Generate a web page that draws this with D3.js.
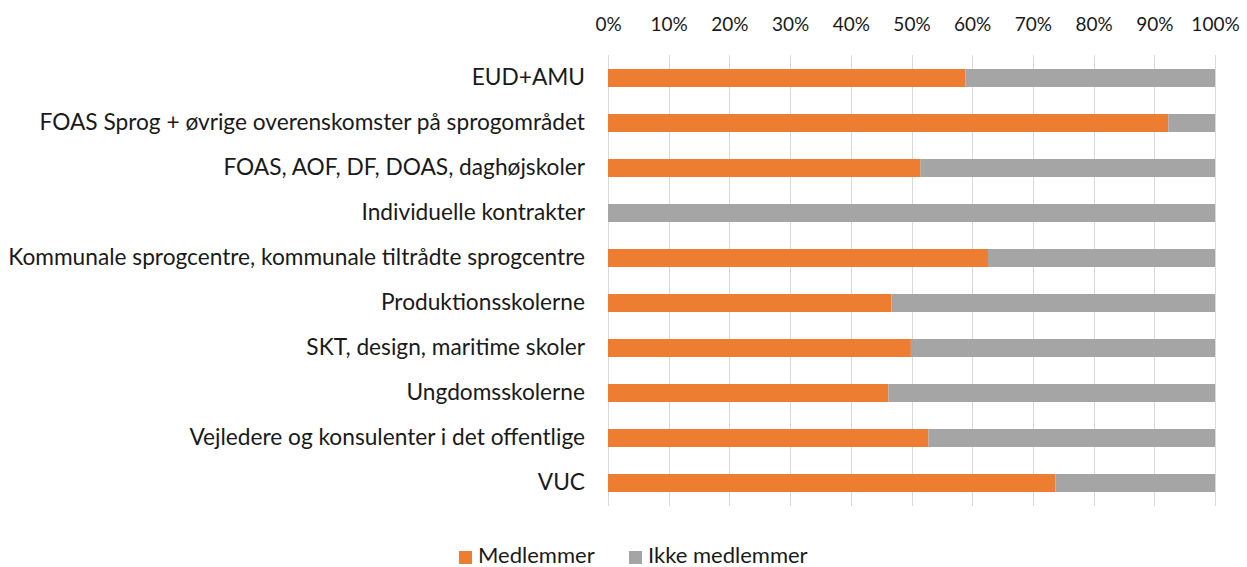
<!DOCTYPE html>
<html><head><meta charset="utf-8">
<script src="https://cdn.jsdelivr.net/npm/d3@7"></script>
<style>body{margin:0;background:#fff}svg{display:block}text{font-family:Lato,sans-serif;fill:#1a1a1a}</style>
</head><body><svg id="c" width="1247" height="567"></svg>
<script>
const categories = ["EUD+AMU","FOAS Sprog + øvrige overenskomster på sprogområdet","FOAS, AOF, DF, DOAS, daghøjskoler","Individuelle kontrakter","Kommunale sprogcentre, kommunale tiltrådte sprogcentre","Produktionsskolerne","SKT, design, maritime skoler","Ungdomsskolerne","Vejledere og konsulenter i det offentlige","VUC"];
const medlemmer = [0.589,0.923,0.515,0,0.626,0.467,0.499,0.462,0.528,0.737];
const ikkeMedlemmer = medlemmer.map(v => 1 - v);
const seriesNames = ["Medlemmer","Ikke medlemmer"];
const colors = ["#ED7D31","#A5A5A5"];
const tickValues = [0,0.1,0.2,0.3,0.4,0.5,0.6,0.7,0.8,0.9,1];

const FONT = "Lato, sans-serif";
const svg = d3.select("#c");
const x = d3.scaleLinear().domain([0,1]).range([608,1215]);
const y = d3.scaleBand().domain(categories).range([55.5,505.5]).paddingInner(0.6).paddingOuter(0.3);

svg.append("g").selectAll("line").data(tickValues).join("line")
  .attr("x1",d=>Math.round(x(d))+0.5).attr("x2",d=>Math.round(x(d))+0.5)
  .attr("y1",55).attr("y2",506).attr("stroke","#D9D9D9").attr("stroke-width",1);

const ax = svg.append("g").attr("transform","translate(0,31)")
  .call(d3.axisTop(x).tickValues(tickValues).tickFormat(d3.format(".0%")).tickSize(0).tickPadding(0));
ax.select(".domain").remove();
ax.selectAll("text").style("font-size","19px").style("font-family",FONT).attr("fill","#1a1a1a");

const ay = svg.append("g").attr("transform","translate(585,0)")
  .call(d3.axisLeft(y).tickSize(0).tickPadding(0));
ay.select(".domain").remove();
ay.selectAll("text").style("font-size","22.7px").style("font-family",FONT).attr("fill","#1a1a1a");

const stackData = categories.map((c,i)=>({cat:c,m:medlemmer[i],n:ikkeMedlemmer[i]}));
const stack = d3.stack().keys(["m","n"])(stackData);
svg.append("g").selectAll("g").data(stack).join("g").attr("fill",(d,i)=>colors[i])
  .selectAll("rect").data(d=>d).join("rect")
  .attr("x",d=>x(d[0])).attr("width",d=>Math.max(0,x(d[1])-x(d[0])))
  .attr("y",d=>y(d.data.cat)).attr("height",y.bandwidth());

const legendX = [459,629];
const lg = svg.append("g");
seriesNames.forEach((s,i)=>{
  lg.append("rect").attr("x",legendX[i]).attr("y",551).attr("width",13).attr("height",13).attr("fill",colors[i]);
  lg.append("text").attr("x",legendX[i]+19).attr("y",563).style("font-size","22px").style("font-family",FONT).text(s);
});
</script></body></html>
